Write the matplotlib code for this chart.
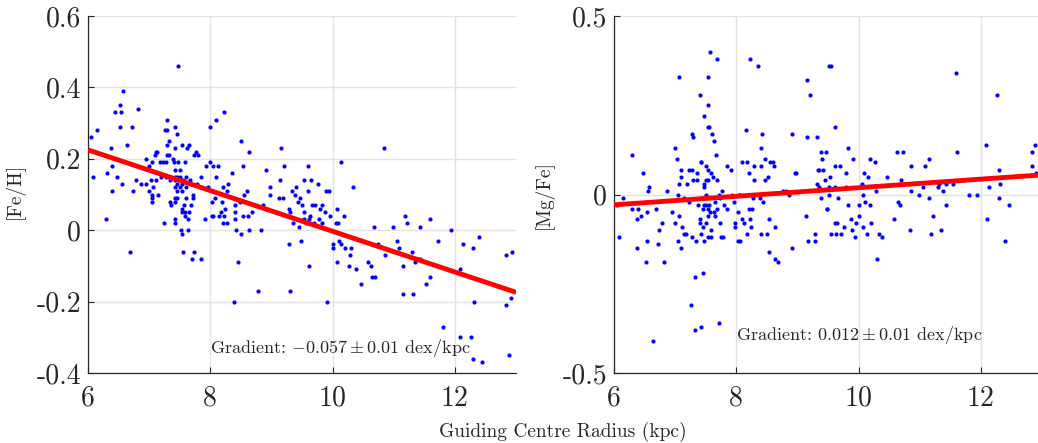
import numpy as np
import matplotlib
matplotlib.use('Agg')
import matplotlib.pyplot as plt

plt.rcParams['font.family'] = 'serif'
plt.rcParams['font.serif'] = ['cmr10']
plt.rcParams['mathtext.fontset'] = 'cm'
plt.rcParams['axes.unicode_minus'] = False

# [Fe/H] vs guiding centre radius (kpc)
feh_r = [7.48, 6.57, 6.53, 6.44, 6.54, 6.82, 6.53, 6.72, 6.14, 6.05, 6.64, 6.37, 7.29, 7.26, 7.29, 7.43,
         7.46, 7.32, 7.29, 7.42, 7.54, 7.62, 7.65, 7.11, 7.13, 7.10, 7.29, 7.33, 7.76, 7.74, 7.80, 7.99,
         8.10, 8.22, 8.51, 8.64, 9.15, 6.95, 7.39, 7.00, 7.05, 7.17, 7.23, 7.27, 7.41, 7.48, 7.58, 7.42,
         7.51, 6.39, 6.08, 6.31, 6.48, 6.55, 6.40, 6.73, 6.78, 6.86, 6.95, 7.03, 7.11, 6.99, 7.07, 7.05,
         7.05, 7.05, 7.15, 7.20, 7.27, 7.34, 7.42, 7.46, 7.50, 7.43, 7.52, 7.60, 7.67, 7.45, 7.53, 7.55,
         7.42, 7.50, 7.60, 7.45, 7.53, 7.42, 7.45, 7.61, 7.72, 7.71, 7.34, 7.36, 7.42, 7.57, 7.68, 7.54,
         7.53, 7.59, 7.66, 7.59, 7.64, 7.43, 7.43, 7.24, 6.30, 7.79, 7.85, 7.93, 7.99, 8.04, 8.12, 8.10,
         8.35, 8.54, 8.91, 9.20, 9.14, 7.97, 8.20, 8.29, 8.28, 8.24, 8.07, 8.03, 8.19, 8.24, 8.17, 8.03,
         8.05, 8.15, 8.22, 7.92, 8.20, 8.28, 8.41, 8.41, 8.48, 8.55, 8.60, 8.54, 8.61, 8.68, 8.41, 8.86,
         8.92, 8.97, 8.98, 9.12, 9.19, 9.28, 9.30, 9.34, 9.40, 9.39, 9.47, 9.43, 9.50, 9.53, 9.60, 9.60,
         9.54, 9.53, 9.57, 9.61, 9.35, 9.45, 10.84, 10.14, 9.65, 9.76, 9.90, 9.94, 10.34, 9.66, 9.71, 9.82,
         9.79, 9.88, 9.96, 10.08, 10.18, 9.63, 9.78, 9.69, 9.83, 10.05, 10.09, 11.19, 11.22, 11.60, 10.67, 10.99,
         11.43, 7.52, 7.53, 7.63, 6.68, 7.55, 7.73, 7.70, 7.85, 8.42, 8.51, 8.64, 8.83, 8.45, 8.78, 9.31,
         8.38, 9.29, 9.48, 9.61, 10.00, 10.00, 10.11, 10.14, 10.20, 10.30, 9.91, 10.08, 10.29, 10.27, 10.39, 10.47,
         10.58, 10.63, 10.64, 10.70, 10.74, 10.86, 11.05, 11.09, 11.15, 11.16, 11.32, 11.30, 11.35, 11.39, 11.43, 11.53,
         11.60, 11.72, 11.80, 11.93, 12.09, 12.09, 12.26, 12.13, 12.30, 12.40, 12.32, 12.30, 12.45, 12.83, 12.94, 12.92,
         12.84, 12.88]
feh = [0.46, 0.39, 0.35, 0.33, 0.33, 0.34, 0.29, 0.29, 0.28, 0.26, 0.24, 0.23, 0.31, 0.28, 0.28, 0.29,
       0.27, 0.25, 0.24, 0.23, 0.24, 0.23, 0.24, 0.22, 0.22, 0.21, 0.21, 0.21, 0.22, 0.21, 0.21, 0.29,
       0.31, 0.33, 0.25, 0.22, 0.23, 0.20, 0.20, 0.18, 0.19, 0.19, 0.19, 0.19, 0.19, 0.19, 0.19, 0.17,
       0.17, 0.18, 0.15, 0.16, 0.15, 0.13, 0.11, 0.11, 0.14, 0.13, 0.13, 0.14, 0.14, 0.11, 0.12, 0.10,
       0.09, 0.08, 0.10, 0.15, 0.15, 0.14, 0.15, 0.15, 0.15, 0.14, 0.14, 0.15, 0.14, 0.13, 0.13, 0.14,
       0.12, 0.12, 0.12, 0.11, 0.11, 0.09, 0.09, 0.09, 0.09, 0.10, 0.08, 0.07, 0.08, 0.07, 0.07, 0.06,
       0.05, 0.05, 0.05, 0.04, 0.03, 0.03, 0.02, 0.02, 0.03, 0.13, 0.15, 0.18, 0.19, 0.18, 0.18, 0.15,
       0.16, 0.18, 0.17, 0.18, 0.14, 0.12, 0.12, 0.13, 0.11, 0.10, 0.09, 0.08, 0.08, 0.06, 0.05, 0.04,
       0.04, 0.04, 0.04, 0.03, 0.02, 0.02, 0.07, 0.05, 0.08, 0.10, 0.11, 0.04, 0.04, 0.05, 0.03, 0.07,
       0.06, 0.12, 0.10, 0.09, 0.09, 0.06, 0.05, 0.11, 0.12, 0.10, 0.09, 0.08, 0.07, 0.14, 0.18, 0.11,
       0.05, 0.03, 0.02, 0.03, 0.02, 0.01, 0.23, 0.19, 0.14, 0.13, 0.11, 0.11, 0.12, 0.07, 0.07, 0.07,
       0.06, 0.05, 0.04, 0.06, 0.04, 0.04, 0.03, 0.02, 0.02, 0.02, 0.02, 0.04, 0.02, 0.03, 0.01, 0.01,
       0.01, 0.00, -0.01, 0.00, -0.06, -0.06, -0.06, -0.08, -0.08, 0.00, -0.01, 0.00, 0.00, -0.09, -0.17, -0.17,
       -0.20, -0.04, -0.03, -0.10, -0.04, -0.05, -0.03, -0.04, -0.05, -0.05, -0.20, -0.09, -0.07, -0.10, -0.11, -0.15,
       -0.09, -0.10, -0.13, -0.13, -0.04, -0.07, -0.03, -0.05, -0.10, -0.18, -0.18, -0.06, -0.09, -0.08, -0.08, -0.15,
       -0.13, -0.03, -0.27, 0.00, -0.11, -0.30, -0.30, -0.04, -0.05, -0.02, -0.20, -0.36, -0.37, -0.07, -0.06, -0.19,
       -0.21, -0.35]

# [Mg/Fe] vs guiding centre radius (kpc)
mgfe_r = [7.57, 7.69, 8.22, 8.36, 7.07, 7.54, 9.15, 9.20, 7.41, 7.54, 7.47, 7.53, 7.56, 7.28, 7.29, 7.61,
          7.63, 8.16, 8.42, 8.91, 9.15, 9.32, 6.30, 6.99, 7.03, 7.67, 8.41, 6.48, 6.57, 6.55, 6.86, 7.10,
          7.23, 7.28, 7.10, 7.35, 7.42, 7.43, 7.50, 7.06, 7.20, 7.29, 7.36, 7.54, 7.59, 7.62, 7.47, 7.47,
          7.51, 7.54, 7.68, 7.85, 7.92, 7.76, 8.10, 8.18, 8.21, 8.29, 8.29, 8.41, 8.47, 8.52, 8.47, 8.55,
          8.60, 8.62, 8.96, 8.98, 8.77, 8.82, 8.86, 9.34, 9.32, 9.35, 7.05, 7.15, 7.42, 7.50, 7.72, 7.73,
          7.93, 8.04, 8.05, 8.28, 8.39, 6.14, 6.05, 6.08, 6.30, 6.40, 6.38, 6.44, 6.38, 6.54, 6.54, 6.53,
          6.68, 6.78, 6.73, 6.72, 6.82, 6.64, 6.95, 7.07, 7.00, 7.12, 7.15, 7.17, 7.05, 7.10, 7.23, 7.38,
          7.47, 7.50, 7.28, 7.34, 7.41, 7.41, 7.45, 7.42, 7.48, 7.46, 7.54, 7.55, 7.54, 7.57, 7.51, 7.58,
          7.54, 7.58, 7.65, 7.63, 7.68, 7.66, 7.33, 7.45, 7.26, 7.32, 7.43, 7.72, 7.73, 7.75, 7.79, 7.80,
          7.85, 7.97, 8.03, 7.98, 7.98, 8.03, 8.06, 8.10, 8.12, 8.20, 8.25, 8.22, 8.24, 8.18, 8.41, 8.51,
          8.54, 8.64, 8.54, 8.64, 8.69, 8.43, 8.91, 9.14, 9.18, 9.29, 9.29, 9.52, 9.55, 9.61, 9.39, 9.46,
          9.40, 9.36, 9.42, 9.45, 9.62, 9.69, 9.54, 9.52, 9.62, 9.52, 9.39, 9.67, 9.49, 9.83, 9.79, 9.79,
          9.83, 9.91, 10.00, 10.05, 10.09, 10.15, 10.08, 10.11, 10.18, 10.19, 10.27, 10.29, 10.47, 10.63, 10.73, 10.70,
          10.64, 10.67, 10.86, 10.86, 10.99, 11.09, 11.16, 11.05, 11.15, 11.30, 11.32, 11.38, 11.43, 11.43, 11.54, 11.60,
          11.61, 11.72, 11.80, 11.93, 12.09, 12.14, 12.26, 12.30, 12.32, 12.30, 12.46, 12.83, 12.84, 12.89, 12.91, 9.48,
          9.55, 9.63, 9.71, 9.62, 9.64, 9.76, 9.88, 9.90, 9.94, 9.96, 10.00, 10.08, 10.14, 10.20, 10.30, 10.34,
          10.39, 10.58, 10.84, 11.19, 11.22, 11.35, 12.10, 12.40]
mgfe = [0.40, 0.38, 0.38, 0.36, 0.33, 0.33, 0.32, 0.28, 0.28, 0.25, 0.22, 0.19, 0.19, 0.17, 0.16, 0.17,
        0.15, 0.18, 0.17, 0.17, 0.16, 0.16, 0.11, 0.13, 0.10, 0.11, 0.13, 0.06, 0.02, 0.01, 0.01, 0.07,
        0.07, 0.07, 0.05, 0.06, 0.09, 0.09, 0.08, 0.03, 0.03, 0.04, 0.04, 0.07, 0.06, 0.05, 0.03, 0.02,
        0.04, 0.04, 0.04, 0.08, 0.07, 0.01, 0.09, 0.09, 0.06, 0.08, 0.04, 0.08, 0.10, 0.05, 0.04, 0.09,
        0.09, 0.08, 0.06, 0.06, 0.01, 0.01, 0.00, 0.07, 0.03, 0.02, 0.00, -0.01, -0.01, 0.00, 0.00, -0.01,
        0.00, 0.00, 0.00, -0.01, -0.01, -0.01, -0.03, -0.12, -0.04, -0.04, -0.07, -0.06, -0.15, -0.05, -0.13, -0.19,
        -0.04, -0.08, -0.10, -0.14, -0.19, -0.41, -0.05, -0.06, -0.08, -0.09, -0.11, -0.11, -0.13, -0.15, -0.02, -0.03,
        -0.03, -0.03, -0.12, -0.13, -0.07, -0.08, -0.09, -0.11, -0.13, -0.04, -0.04, -0.03, -0.06, -0.05, -0.08, -0.10,
        -0.12, -0.12, -0.06, -0.05, -0.04, -0.02, -0.23, -0.22, -0.31, -0.38, -0.37, -0.36, -0.08, -0.12, -0.12, -0.03,
        -0.04, -0.02, -0.05, -0.08, -0.09, -0.13, -0.13, -0.07, -0.08, -0.04, -0.04, -0.07, -0.09, -0.11, -0.11, -0.11,
        -0.07, -0.09, -0.16, -0.18, -0.19, -0.02, -0.15, -0.06, -0.13, -0.11, -0.13, 0.36, 0.36, 0.19, 0.12, 0.12,
        0.10, 0.07, 0.07, 0.04, 0.08, 0.08, 0.05, 0.02, 0.02, 0.00, -0.01, -0.01, -0.04, -0.03, 0.02, 0.06,
        0.13, 0.10, -0.03, 0.03, 0.06, 0.05, 0.00, -0.02, -0.03, 0.10, 0.09, 0.01, 0.05, 0.12, 0.12, 0.04,
        -0.02, -0.03, 0.08, 0.01, 0.00, 0.08, 0.10, 0.02, -0.01, 0.02, 0.03, 0.01, 0.03, -0.03, 0.03, 0.34,
        0.12, 0.04, 0.00, 0.00, 0.14, 0.02, 0.28, 0.07, 0.03, -0.01, -0.03, 0.08, 0.12, 0.14, 0.06, -0.04,
        -0.11, -0.11, -0.11, -0.08, -0.08, -0.09, -0.07, -0.10, -0.12, -0.08, -0.06, -0.09, -0.11, -0.08, -0.18, -0.11,
        -0.12, -0.07, -0.10, -0.11, -0.06, -0.10, -0.07, -0.13]

# linear fits: value = intercept + slope * R
feh_slope, feh_icpt = -0.057, 0.567
mgfe_slope, mgfe_icpt = 0.012, -0.101

x_ticks = [6, 8, 10, 12]
x_labels = ['6', '8', '10', '12']
feh_ticks = [-0.4, -0.2, 0, 0.2, 0.4, 0.6]
feh_labels = ['-0.4', '-0.2', '0', '0.2', '0.4', '0.6']
mgfe_ticks = [-0.5, 0, 0.5]
mgfe_labels = ['-0.5', '0', '0.5']

W, H = 1038, 443
fig = plt.figure(figsize=(W / 100, H / 100), dpi=100)
ax1 = fig.add_axes([88 / W, 70 / H, 428 / W, 357 / H])
ax2 = fig.add_axes([614 / W, 70 / H, 428 / W, 357 / H])


def style(ax, yticks, ylabels, ylim, ylabel):
    ax.set_xlim(6, 13)
    ax.set_ylim(*ylim)
    ax.set_xticks(x_ticks)
    ax.set_xticklabels(x_labels)
    ax.set_yticks(yticks)
    ax.set_yticklabels(ylabels)
    ax.set_axisbelow(True)
    ax.grid(True, color='#e3e3e3', lw=1.0)
    for s in ['top', 'right']:
        ax.spines[s].set_visible(False)
    for s in ['left', 'bottom']:
        ax.spines[s].set_color('#262626')
        ax.spines[s].set_linewidth(0.9)
    ax.tick_params(axis='both', direction='in', length=4, width=0.8, color='#262626',
                   labelsize=20, labelcolor='#262626')
    ax.tick_params(axis='x', pad=9)
    ax.tick_params(axis='y', pad=5)
    ax.set_ylabel(ylabel, fontsize=14, color='#262626')


xfit = np.array([6, 13])

ax1.scatter(feh_r, feh, s=9, color='blue', linewidths=0, zorder=3)
ax1.plot(xfit, feh_icpt + feh_slope * xfit, color='red', lw=3.5, zorder=4, solid_capstyle='butt')
style(ax1, feh_ticks, feh_labels, (-0.4, 0.6), '[Fe/H]')
ax1.yaxis.set_label_coords(-0.148, 0.51)
ax1.text(8.0, -0.33, r'Gradient: $-0.057 \pm 0.01$ dex/kpc', fontsize=13, va='center', ha='left',
         color='#262626')

ax2.scatter(mgfe_r, mgfe, s=9, color='blue', linewidths=0, zorder=3)
ax2.plot(xfit, mgfe_icpt + mgfe_slope * xfit, color='red', lw=3.5, zorder=4, solid_capstyle='butt')
style(ax2, mgfe_ticks, mgfe_labels, (-0.5, 0.5), '[Mg/Fe]')
ax2.yaxis.set_label_coords(-0.14, 0.50)
ax2.text(8.0, -0.394, r'Gradient: $0.012 \pm 0.01$ dex/kpc', fontsize=13, va='center', ha='left',
         color='#262626')

fig.text(563 / W, 1 - 432 / H, 'Guiding Centre Radius (kpc)', fontsize=14, ha='center', va='center',
         color='#262626')

fig.savefig('out.png', dpi=100)
